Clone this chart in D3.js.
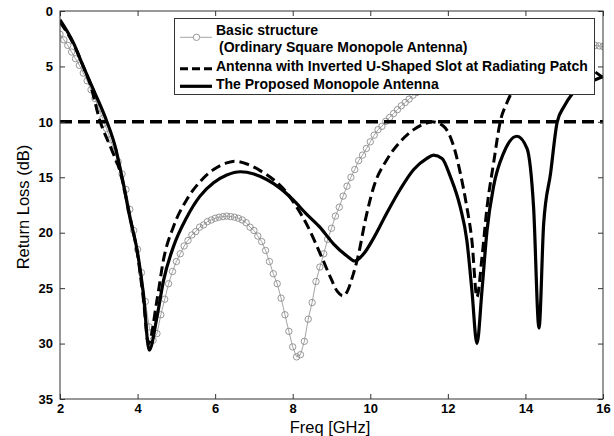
<!DOCTYPE html>
<html><head><meta charset="utf-8">
<script src="https://cdn.jsdelivr.net/npm/d3@7"></script>
<style>html,body{margin:0;padding:0;background:#fff}svg{display:block}</style>
</head><body>
<svg id="chart" width="614" height="436"></svg>
<script>
// ---- data ----
const xTickValues = [2, 4, 6, 8, 10, 12, 14, 16];
const yTickValues = [0, 5, 10, 15, 20, 25, 30, 35];
const thresholdDB = 10;

const seriesNames = [
  "Basic structure",
  "(Ordinary Square Monopole Antenna)",
  "Antenna with Inverted U-Shaped Slot at Radiating Patch",
  "The Proposed Monopole Antenna"
];

const basicFreq = [2.0,2.1,2.2,2.3,2.4,2.5,2.6,2.7,2.8,2.9,3.0,3.1,3.2,3.3,3.4,3.5,3.6,3.7,3.8,3.9,
  4.0,4.1,4.2,4.3,4.4,4.5,4.6,4.7,4.8,4.9,5.0,5.1,5.2,5.3,5.4,5.5,5.6,5.7,5.8,5.9,
  6.0,6.1,6.2,6.3,6.4,6.5,6.6,6.7,6.8,6.9,7.0,7.1,7.2,7.3,7.4,7.5,7.6,7.7,7.8,7.9,
  8.0,8.1,8.2,8.3,8.4,8.5,8.6,8.7,8.8,8.9,9.0,9.1,9.2,9.3,9.4,9.5,9.6,9.7,9.8,9.9,
  10.0,10.1,10.2,10.3,10.4,10.5,10.6,10.7,10.8,10.9,11.0,11.1,11.2,11.3,11.4,11.5,11.6,11.7,11.8,11.9,
  12.0,12.1,12.2,12.3,12.4,12.5,12.6,12.7,12.8,12.9,13.0,13.1,13.2,13.3,13.4,13.5,13.6,13.7,13.8,13.9,
  14.0,14.1,14.2,14.3,14.4,14.5,14.6,14.7,14.8,14.9,15.0,15.1,15.2,15.3,15.4,15.5,15.6,15.7,15.8,15.9,16.0];
const basicRL = [2.1,2.6,3.1,3.7,4.3,4.9,5.6,6.3,7.1,7.9,8.8,9.7,10.6,11.6,12.6,13.6,14.7,16.1,17.9,19.8,
  21.5,23.6,26.2,28.5,29.7,29.1,27.4,26.0,24.6,23.5,22.6,21.9,21.2,20.7,20.2,19.9,19.5,19.3,19.0,18.85,
  18.7,18.6,18.55,18.5,18.55,18.6,18.7,18.85,19.1,19.5,19.8,20.3,20.8,21.6,22.6,23.7,24.6,25.9,27.4,28.9,
  30.3,31.2,31.0,29.8,27.8,26.3,24.4,23.1,21.9,20.6,19.6,18.5,17.7,16.7,15.8,15.0,14.3,13.5,13.0,12.4,
  11.8,11.2,10.7,10.4,9.95,9.6,9.25,8.9,8.55,8.25,7.95,7.6,7.35,7.1,6.85,6.6,6.4,6.2,6.0,5.8,
  5.65,5.5,5.35,5.2,5.05,4.9,4.8,4.7,4.6,4.5,4.4,4.3,4.2,4.1,4.05,4.0,3.9,3.85,3.8,3.75,
  3.7,3.65,3.6,3.5,3.45,3.4,3.35,3.3,3.25,3.2,3.2,3.15,3.1,3.1,3.1,3.1,3.1,3.1,3.1,3.15,3.2];

const slotFreq = [2.0,2.35,2.6,2.77,3.03,3.33,3.55,3.8,4.0,4.15,4.28,4.5,4.67,4.92,5.27,5.61,5.96,6.3,6.5,6.82,
  7.16,7.5,7.8,8.05,8.37,8.71,8.97,9.15,9.3,9.42,9.53,9.7,9.87,10.09,10.43,10.77,11.12,11.46,11.6,11.89,
  12.15,12.32,12.49,12.62,12.75,12.88,13.01,13.18,13.35,13.52,13.7,14.0,14.5,15.0,15.5,16.0];
const slotRL = [1.0,3.0,5.0,6.5,9.9,12.5,14.5,18.5,22.0,26.0,30.0,26.1,22.4,19.5,17.0,15.4,14.3,13.7,13.55,13.8,
  14.4,15.2,16.2,17.4,19.3,21.9,24.0,25.3,25.7,25.2,24.1,21.9,18.9,15.85,13.4,11.8,10.7,10.1,10.0,10.4,
  12.2,14.6,17.7,20.7,25.8,22.2,17.7,13.7,10.0,8.3,7.0,5.5,4.0,3.8,4.8,6.0];

const proposedFreq = [2.0,2.35,2.6,2.9,3.2,3.42,3.6,3.8,4.0,4.15,4.3,4.5,4.67,4.92,5.27,5.61,5.96,6.3,6.65,7.0,
  7.33,7.68,8.0,8.35,8.7,9.05,9.4,9.6,9.83,10.1,10.43,10.77,11.12,11.46,11.63,11.85,12.06,12.32,12.49,12.62,
  12.75,12.88,13.01,13.18,13.44,13.78,14.04,14.21,14.35,14.47,14.65,14.82,15.0,15.2,15.5,15.8,16.0];
const proposedRL = [0.8,2.9,5.0,7.4,9.9,12.2,15.0,18.6,21.8,25.5,30.6,27.6,24.3,21.3,18.6,16.7,15.5,14.8,14.5,14.7,
  15.2,16.0,17.0,18.3,19.5,21.0,22.1,22.55,21.9,20.4,18.2,16.1,14.3,13.3,13.0,13.3,14.9,17.7,20.7,25.2,
  30.0,25.2,19.8,15.8,12.8,11.3,12.4,17.7,28.6,19.2,14.6,10.0,8.6,7.5,6.7,6.2,5.9];

// ---- layout ----
const svg = d3.select("#chart");
const mLeft = 60, mRight = 603, mTop = 11, mBottom = 399;
const x = d3.scaleLinear().domain([2, 16]).range([mLeft, mRight]);
const y = d3.scaleLinear().domain([0, 35]).range([mTop, mBottom]);
const FONT = "'Liberation Sans', Arial, Helvetica, sans-serif";

svg.append("defs").append("clipPath").attr("id", "clip")
  .append("rect").attr("x", mLeft).attr("y", mTop).attr("width", mRight - mLeft).attr("height", mBottom - mTop);

const plot = svg.append("g").attr("clip-path", "url(#clip)");

const toPts = (fs, vs) => fs.map((f, i) => [f, vs[i]]);
const line = d3.line().x(d => x(d[0])).y(d => y(d[1]));
const smooth = d3.line().x(d => x(d[0])).y(d => y(d[1])).curve(d3.curveMonotoneX);

// basic structure (thin grey with circle markers)
const basicPts = toPts(basicFreq, basicRL);
plot.append("path").datum(basicPts).attr("d", line)
  .attr("fill", "none").attr("stroke", "#9a9a9a").attr("stroke-width", 0.9);
plot.append("g").selectAll("circle").data(basicPts).join("circle")
  .attr("cx", d => x(d[0])).attr("cy", d => y(d[1])).attr("r", 3.2)
  .attr("fill", "none").attr("stroke", "#8c8c8c").attr("stroke-width", 0.9);

// inverted U-slot (dashed)
plot.append("path").datum(toPts(slotFreq, slotRL)).attr("d", smooth)
  .attr("fill", "none").attr("stroke", "#000").attr("stroke-width", 3)
  .attr("stroke-dasharray", "10,5");

// proposed (solid)
plot.append("path").datum(toPts(proposedFreq, proposedRL)).attr("d", smooth)
  .attr("fill", "none").attr("stroke", "#000").attr("stroke-width", 3.2)
  .attr("stroke-linejoin", "round");

// threshold
plot.append("line").attr("x1", x(2)).attr("x2", x(16))
  .attr("y1", y(thresholdDB)).attr("y2", y(thresholdDB))
  .attr("stroke", "#000").attr("stroke-width", 3.5).attr("stroke-dasharray", "12,6");

// ---- axes ----
function styleAxis(g) {
  g.select(".domain").remove();
  g.selectAll(".tick line").attr("stroke", "#333");
  g.selectAll("text").attr("font-family", FONT).attr("font-weight", "bold")
    .attr("font-size", 13).attr("fill", "#000");
}
svg.append("g").attr("transform", `translate(0,${mBottom})`)
  .call(d3.axisBottom(x).tickValues(xTickValues).tickSizeInner(-5).tickSizeOuter(0).tickPadding(5).tickFormat(d3.format("d")))
  .call(styleAxis);
svg.append("g").attr("transform", `translate(0,${mTop})`)
  .call(d3.axisTop(x).tickValues(xTickValues).tickSizeInner(-5).tickSizeOuter(0).tickFormat(""))
  .call(styleAxis);
svg.append("g").attr("transform", `translate(${mLeft},0)`)
  .call(d3.axisLeft(y).tickValues(yTickValues).tickSizeInner(-5).tickSizeOuter(0).tickPadding(7).tickFormat(d3.format("d")))
  .call(styleAxis);
svg.append("g").attr("transform", `translate(${mRight},0)`)
  .call(d3.axisRight(y).tickValues(yTickValues).tickSizeInner(-5).tickSizeOuter(0).tickFormat(""))
  .call(styleAxis);

svg.append("rect").attr("x", mLeft).attr("y", mTop).attr("width", mRight - mLeft).attr("height", mBottom - mTop)
  .attr("fill", "none").attr("stroke", "#333").attr("stroke-width", 1);

// axis titles
svg.append("text").attr("x", 330).attr("y", 432.5).attr("text-anchor", "middle")
  .attr("font-family", FONT).attr("font-size", 16.5).attr("fill", "#000").text("Freq [GHz]");
svg.append("text").attr("transform", "translate(29,207) rotate(-90)").attr("text-anchor", "middle")
  .attr("font-family", FONT).attr("font-size", 16.5).attr("fill", "#000").text("Return Loss (dB)");

// ---- legend ----
const lg = svg.append("g");
lg.append("rect").attr("x", 174.5).attr("y", 18.5).attr("width", 420).attr("height", 76)
  .attr("fill", "#fff").attr("stroke", "#333").attr("stroke-width", 1);
lg.append("line").attr("x1", 180).attr("x2", 212).attr("y1", 37.3).attr("y2", 37.3)
  .attr("stroke", "#9a9a9a").attr("stroke-width", 0.9);
lg.append("circle").attr("cx", 196.5).attr("cy", 37.3).attr("r", 3.2)
  .attr("fill", "#fff").attr("stroke", "#8c8c8c").attr("stroke-width", 0.9);
lg.append("line").attr("x1", 180).attr("x2", 212).attr("y1", 68.7).attr("y2", 68.7)
  .attr("stroke", "#000").attr("stroke-width", 3).attr("stroke-dasharray", "8,4");
lg.append("line").attr("x1", 180).attr("x2", 212).attr("y1", 86.3).attr("y2", 86.3)
  .attr("stroke", "#000").attr("stroke-width", 3.2);
const legendRows = [[216, 35], [219, 52.2], [216, 70.5], [216, 88.7]];
lg.selectAll("text.lt").data(seriesNames).join("text").attr("class", "lt")
  .attr("x", (d, i) => legendRows[i][0]).attr("y", (d, i) => legendRows[i][1])
  .attr("font-family", FONT).attr("font-weight", "bold").attr("font-size", 14).attr("fill", "#000")
  .text(d => d);
</script>
</body></html>
